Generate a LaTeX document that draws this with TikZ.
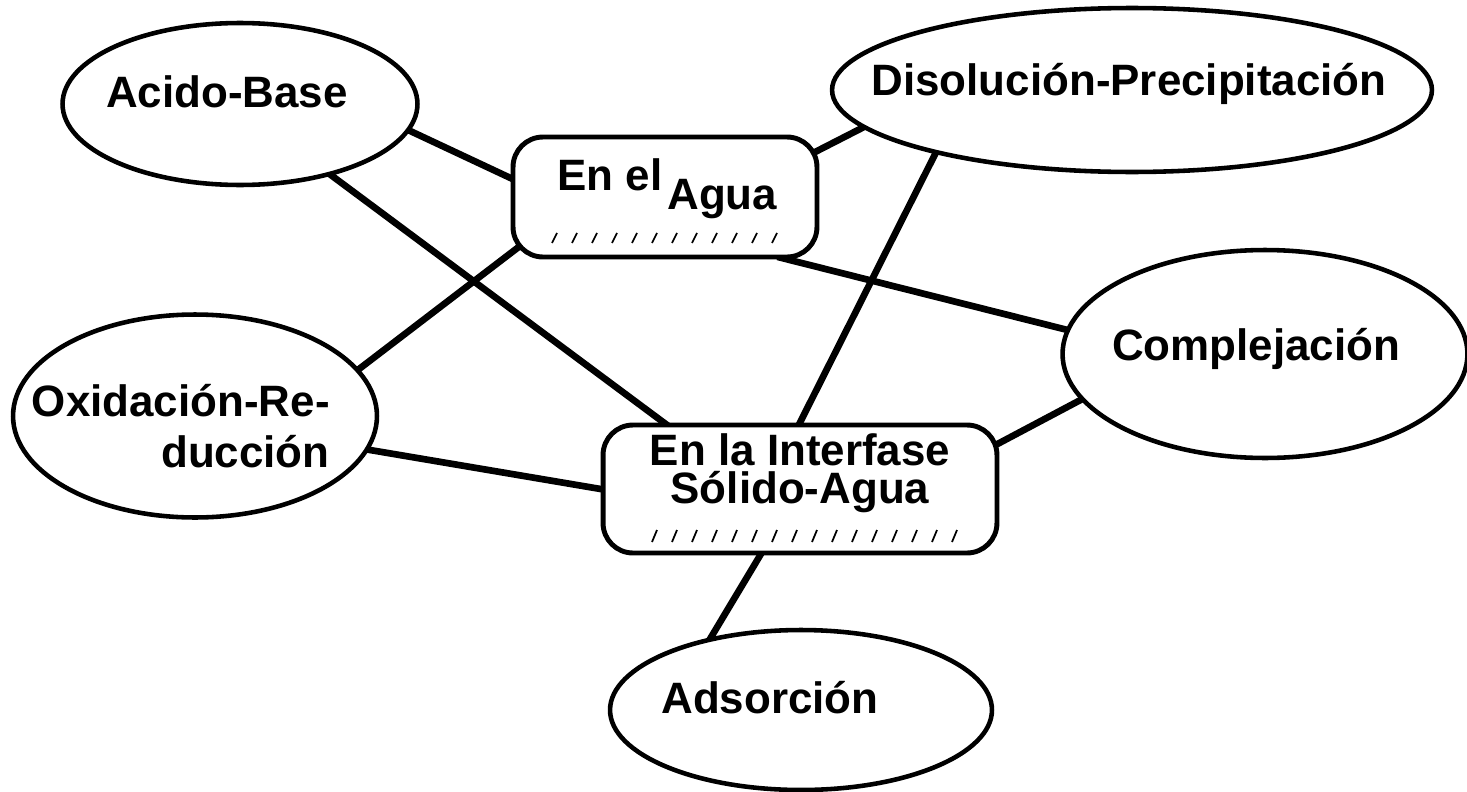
\documentclass[tikz,border=0pt]{standalone}
\usepackage{fontspec}
\setmainfont{Liberation Sans}
\usetikzlibrary{shapes.geometric,backgrounds}
\tikzset{
  bubble/.style={ellipse, draw=black, fill=white, line width=2.6pt, inner sep=0pt},
  roomy/.style={rectangle, rounded corners=0.6cm, draw=black, fill=white, line width=2.8pt, inner sep=0pt},
  lbl/.style={font=\fontsize{25}{30}\selectfont\bfseries, inner sep=0pt},
  link/.style={line width=3.8pt, shorten <=-6pt, shorten >=-6pt},
  hatch/.style={line width=1pt}
}

\begin{document}
\begin{tikzpicture}[x=0.02cm, y=-0.02cm]
  \useasboundingbox (0,0) rectangle (1467,791);
  % ellipses
  \node[bubble, minimum width=7.1cm, minimum height=3.24cm] (acido) at (240,104) {};
  \node[bubble, minimum width=12cm, minimum height=3.28cm] (disol) at (1132,90) {};
  \node[bubble, minimum width=8.1cm, minimum height=4.16cm] (complej) at (1265,354) {};
  \node[bubble, minimum width=7.28cm, minimum height=4.06cm] (oxid) at (195,416) {};
  \node[bubble, minimum width=7.64cm, minimum height=3.2cm] (adsor) at (801,710) {};
  % boxes
  \node[roomy, minimum width=6.08cm, minimum height=2.4cm] (agua) at (665,197) {};
  \node[roomy, minimum width=7.88cm, minimum height=2.56cm] (interf) at (800,489) {};

  \begin{scope}[on background layer]
    \draw[link] (acido.-9.5) -- (agua.173.5);
    \draw[link] (acido.-38) -- (interf.154.5);
    \draw[link] (agua.17.8) -- (disol.188.9);
    \draw[link] (disol.-162.3) -- (interf.north);
    \draw[link] (agua.-27.5) -- (complej.173.2);
    \draw[link] (oxid.16.8) -- (agua.200.3);
    \draw[link] (oxid.-11.9) -- (interf.west);
    \draw[link] (complej.194) -- (interf.13.6);
    \draw[link] (interf.-121) -- (adsor.141.3);
  \end{scope}

  % labels
  \node[lbl, anchor=base] (acidoT) at (227,107) {Acido-Base};
  \node[lbl, anchor=base] (disolT) at (1129,95) {Disolución-Precipitación};
  \node[lbl, anchor=base] (complejT) at (1256,360) {Complejación};
  \node[lbl, anchor=base] (adsorT) at (770,713) {Adsorción};
  \node[lbl, anchor=base east, align=right] (oxidT) at (330,467) {Oxidación-Re-\\[-1.5pt]ducción};
  \node[lbl, anchor=base west] (aguaT) at (557,190) {En el\hspace{0.1cm}\raisebox{-0.4cm}{Agua}};
  \node[lbl, anchor=base, align=center] (interfT) at (800,503) {En la Interfase\\[-8.5pt]Sólido-Agua};

  % hatching
  \foreach \hx in {552,572,...,772} \draw[hatch] (\hx,243) -- (\hx+5,233);
  \foreach \hx in {652,672,...,952} \draw[hatch] (\hx,542) -- (\hx+5,530);
\end{tikzpicture}
\end{document}
